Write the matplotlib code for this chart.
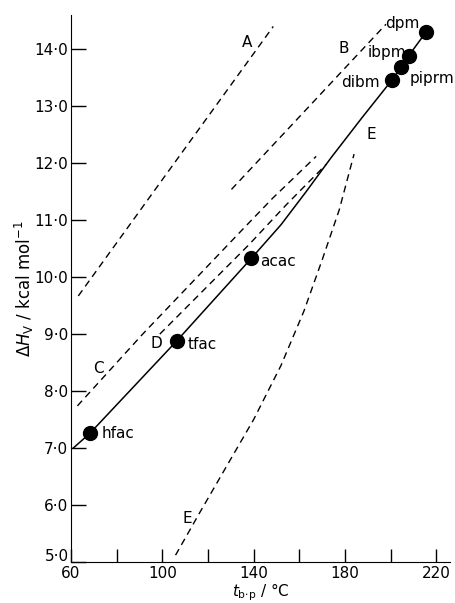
import numpy as np
import matplotlib
matplotlib.use('Agg')
import matplotlib.pyplot as plt
from matplotlib.ticker import FuncFormatter, MultipleLocator

# Chélates mesurés (t_b.p en °C, ΔH_v en kcal/mol)
ligands = ['hfac', 'tfac', 'acac', 'dibm', 'piprm', 'ibpm', 'dpm']
t_bp = [68.3, 106.3, 139.0, 200.6, 204.5, 208.0, 215.5]
dH = [7.26, 8.88, 10.33, 13.46, 13.68, 13.89, 14.30]

# Courbe E (trait plein)
e_x = [61.0, 68.3, 106.3, 139.0, 152.0, 163.0, 174.0, 187.5, 200.6, 204.5, 208.0, 215.5]
e_y = [7.00, 7.26, 8.88, 10.33, 10.92, 11.50, 12.10, 12.80, 13.46, 13.68, 13.89, 14.30]

# Courbes en tirets
a_x = [63.2, 98.9, 148.6]
a_y = [9.67, 11.65, 14.40]
b_x = [130.3, 198.0]
b_y = [11.54, 14.44]
c_x = [62.8, 91.4, 133.8, 148.2, 167.4]
c_y = [7.74, 9.00, 10.78, 11.38, 12.12]
d_x = [98.9, 138.2, 154.3, 171.8]
d_y = [9.00, 10.58, 11.27, 11.98]
e2_x = [105.8, 116.3, 128.0, 140.0, 152.0, 162.0, 170.0, 177.5, 184.0]
e2_y = [5.12, 5.86, 6.67, 7.50, 8.45, 9.40, 10.30, 11.18, 12.16]

plt.rcParams['font.family'] = 'DejaVu Sans'

fig = plt.figure(figsize=(4.56, 6.03), dpi=100)
ax = fig.add_axes([0.1557, 0.068, 0.831, 0.907])

dash = dict(color='black', lw=1.0, ls=(0, (5, 3.5)))
for xs, ys in [(a_x, a_y), (b_x, b_y), (c_x, c_y), (d_x, d_y), (e2_x, e2_y)]:
    ax.plot(xs, ys, **dash)

ax.plot(e_x, e_y, color='black', lw=1.1)
ax.plot(t_bp, dH, 'o', color='black', ms=10)

# Étiquettes des courbes
for lab, x, y in [('A', 137.3, 14.12), ('B', 179.6, 14.02), ('C', 72.2, 8.39),
                  ('D', 97.5, 8.84), ('E', 191.5, 12.5), ('E', 111.0, 5.77)]:
    ax.text(x, y, lab, fontsize=11, ha='center', va='center')

# Noms des ligands
lab_pos = {'hfac': (80.5, 7.26), 'tfac': (117.6, 8.82), 'acac': (150.8, 10.28),
           'dibm': (187.0, 13.42), 'piprm': (218.0, 13.48), 'ibpm': (198.5, 13.95),
           'dpm': (205.0, 14.46)}
for name in ligands:
    x, y = lab_pos[name]
    ax.text(x, y, name, fontsize=11, ha='center', va='center')

ax.set_xlim(60, 226)
ax.set_ylim(5.0, 14.6)
ax.spines['top'].set_visible(False)
ax.spines['right'].set_visible(False)

ax.xaxis.set_major_locator(MultipleLocator(20))
ax.yaxis.set_major_locator(MultipleLocator(1))
ax.xaxis.set_major_formatter(FuncFormatter(lambda v, p: f'{v:.0f}' if int(round(v)) % 40 == 20 else ''))
# le « 5·0 » est posé à part, un peu plus haut, pour ne pas toucher le « 60 »
ax.yaxis.set_major_formatter(FuncFormatter(lambda v, p: '' if v < 5.5 else f'{v:.1f}'.replace('.', '·')))
ax.tick_params(axis='x', direction='in', length=9.5, width=1, labelsize=11, pad=3)
ax.tick_params(axis='y', direction='in', length=11, width=1, labelsize=11, pad=2)
ax.text(-0.006, 5.09, '5·0', transform=ax.get_yaxis_transform(), fontsize=11,
        ha='right', va='center')

ax.set_xlabel(r'$t_{\rm b{\cdot}p}$ / °C', fontsize=11, labelpad=0)
ax.set_ylabel(r'$\Delta H_{\rm V}$ / kcal mol$^{-1}$', fontsize=12, labelpad=-1)

fig.savefig('out.png', dpi=100)
